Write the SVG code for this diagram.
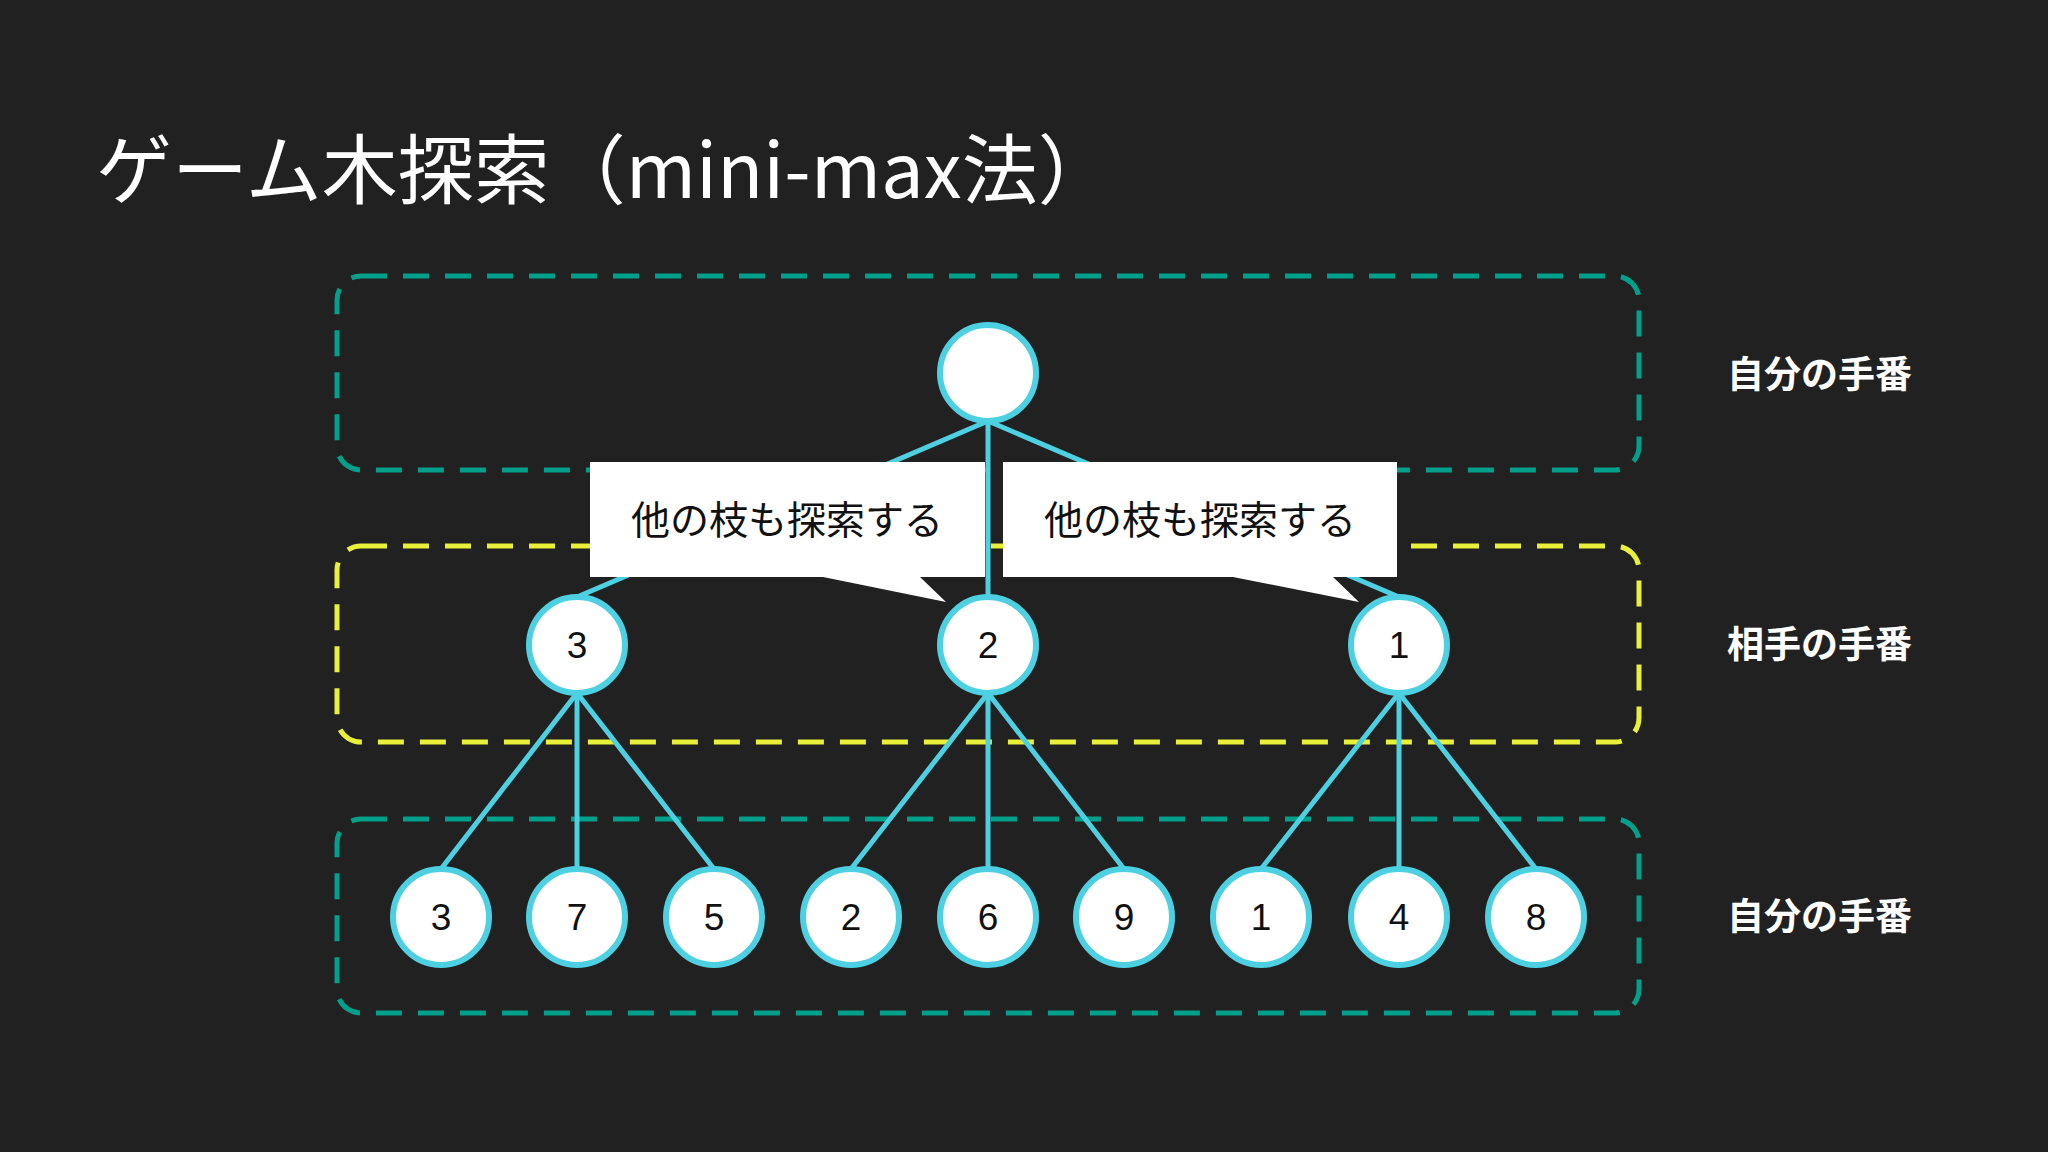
<svg xmlns="http://www.w3.org/2000/svg" width="2048" height="1152" viewBox="0 0 2048 1152">
<style>
.t{font-family:"Noto Sans CJK JP","Liberation Sans",sans-serif}
.box{fill:none;stroke-width:5;stroke-dasharray:26 16}
.n circle{fill:#fff;stroke:#4dd0e1;stroke-width:6}
.n text{font-family:"Liberation Sans",sans-serif;font-size:37px;text-anchor:middle;fill:#111}
.e line{stroke:#4dd0e1;stroke-width:5}
.side{font-size:37px;font-weight:bold;fill:#fff}
.co{fill:#fff}
.cot{font-size:39px;fill:#111;text-anchor:middle}
</style>
<rect width="2048" height="1152" fill="#212121"/>
<text class="t" x="96" y="198" font-size="76" fill="#fff">ゲーム木探索（mini-max法）</text>
<rect class="box" x="337" y="276" width="1302" height="194" rx="24" stroke="#00a08a"/>
<rect class="box" x="337" y="546" width="1302" height="196" rx="24" stroke="#e8f03a"/>
<rect class="box" x="337" y="819" width="1302" height="194" rx="24" stroke="#00a08a"/>
<text class="t side" x="1727" y="388">自分の手番</text>
<text class="t side" x="1727" y="658">相手の手番</text>
<text class="t side" x="1727" y="930">自分の手番</text>
<g class="e" id="edges">
<line x1="988" y1="421" x2="577" y2="597"/>
<line x1="988" y1="421" x2="988" y2="597"/>
<line x1="988" y1="421" x2="1399" y2="597"/>
<line x1="577" y1="693" x2="441" y2="869"/>
<line x1="577" y1="693" x2="577" y2="869"/>
<line x1="577" y1="693" x2="714" y2="869"/>
<line x1="988" y1="693" x2="851" y2="869"/>
<line x1="988" y1="693" x2="988" y2="869"/>
<line x1="988" y1="693" x2="1124" y2="869"/>
<line x1="1399" y1="693" x2="1261" y2="869"/>
<line x1="1399" y1="693" x2="1399" y2="869"/>
<line x1="1399" y1="693" x2="1536" y2="869"/>
</g>
<g class="n" id="root"><circle cx="988" cy="373" r="48"/></g>
<g id="callout1"><path class="co" d="M590 462H985V577H920L946 602L823 577H590Z"/><text class="t cot" x="787" y="534">他の枝も探索する</text></g>
<g id="callout2"><path class="co" d="M1003 462H1397V577H1333L1359 602L1233 577H1003Z"/><text class="t cot" x="1200" y="534">他の枝も探索する</text></g>
<g class="n" id="a"><circle cx="577" cy="645" r="48"/><text x="577" y="658">3</text></g>
<g class="n" id="b"><circle cx="988" cy="645" r="48"/><text x="988" y="658">2</text></g>
<g class="n" id="c"><circle cx="1399" cy="645" r="48"/><text x="1399" y="658">1</text></g>
<g class="n" id="l1"><circle cx="441" cy="917" r="48"/><text x="441" y="930">3</text></g>
<g class="n" id="l2"><circle cx="577" cy="917" r="48"/><text x="577" y="930">7</text></g>
<g class="n" id="l3"><circle cx="714" cy="917" r="48"/><text x="714" y="930">5</text></g>
<g class="n" id="l4"><circle cx="851" cy="917" r="48"/><text x="851" y="930">2</text></g>
<g class="n" id="l5"><circle cx="988" cy="917" r="48"/><text x="988" y="930">6</text></g>
<g class="n" id="l6"><circle cx="1124" cy="917" r="48"/><text x="1124" y="930">9</text></g>
<g class="n" id="l7"><circle cx="1261" cy="917" r="48"/><text x="1261" y="930">1</text></g>
<g class="n" id="l8"><circle cx="1399" cy="917" r="48"/><text x="1399" y="930">4</text></g>
<g class="n" id="l9"><circle cx="1536" cy="917" r="48"/><text x="1536" y="930">8</text></g>
</svg>
